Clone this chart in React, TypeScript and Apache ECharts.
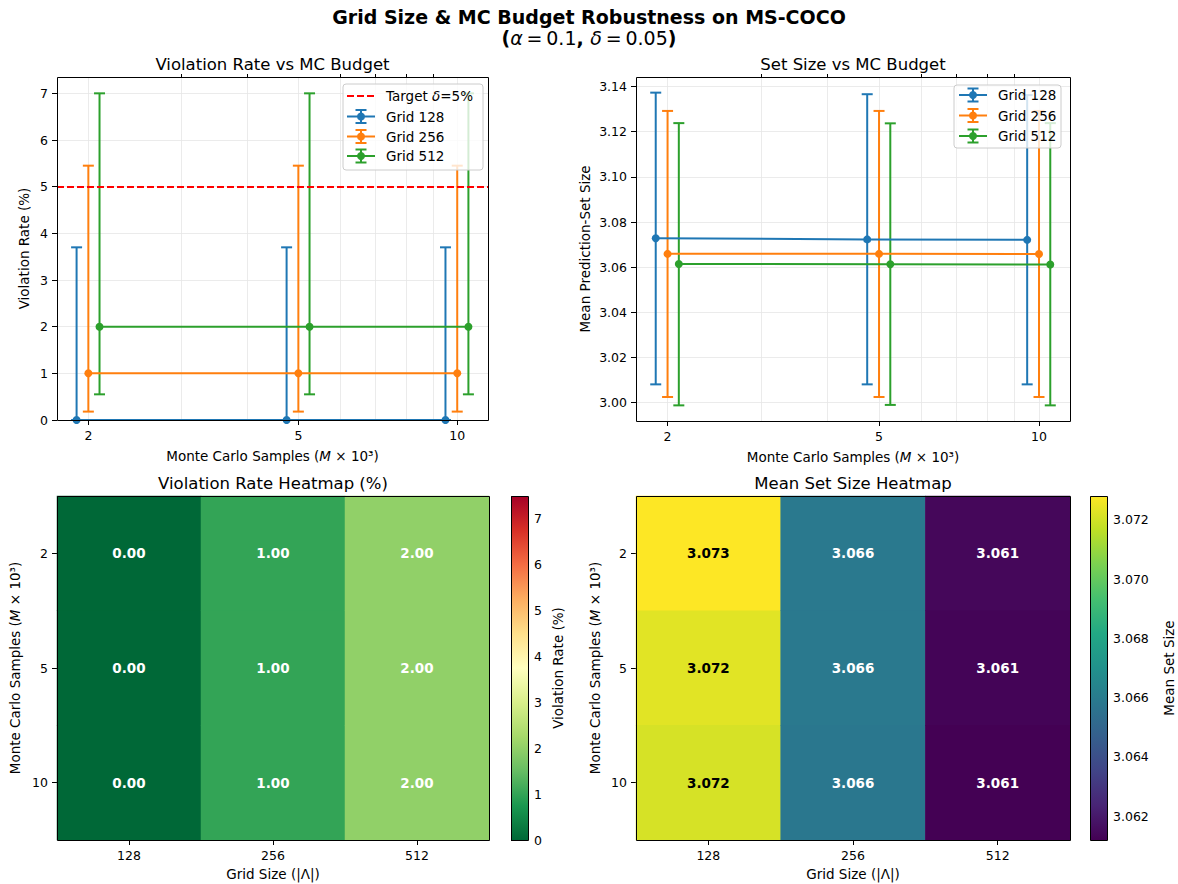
import React, { useEffect, useRef } from 'react';
import * as echarts from 'echarts';

// ---------------- data ----------------
const mcBudgets = [2, 5, 10];
const budgetLabels = ['2', '5', '10'];
const gridSizes = ['128', '256', '512'];
const seriesNames = ['Grid 128', 'Grid 256', 'Grid 512'];
const seriesColors = ['#1f77b4', '#ff7f0e', '#2ca02c'];
const xJitter = [0.95, 1.0, 1.05];

// violation rate (%) per grid size (rows) and MC budget (cols)
const violationRate = [
  [0, 0, 0],
  [1, 1, 1],
  [2, 2, 2],
];
const violationLow = [
  [0, 0, 0],
  [0.18, 0.18, 0.18],
  [0.55, 0.55, 0.55],
];
const violationHigh = [
  [3.7, 3.7, 3.7],
  [5.45, 5.45, 5.45],
  [7.0, 7.0, 7.0],
];
const targetDelta = 5;

// mean prediction-set size
const setSize = [
  [3.0728, 3.0723, 3.0721],
  [3.0659, 3.0659, 3.0658],
  [3.0614, 3.0613, 3.0612],
];
const setSizeLow = [
  [3.0081, 3.0081, 3.0081],
  [3.0025, 3.0025, 3.0025],
  [2.9988, 2.999, 2.9988],
];
const setSizeHigh = [
  [3.1373, 3.1366, 3.1362],
  [3.1292, 3.1292, 3.1292],
  [3.1238, 3.1237, 3.1238],
];

const violationTicks = [0, 1, 2, 3, 4, 5, 6, 7];
const setSizeTicks = [3.0, 3.02, 3.04, 3.06, 3.08, 3.1, 3.12, 3.14];
const minorLogTicks = [3, 4, 6, 7, 8, 9];
const violationCbTicks = [0, 1, 2, 3, 4, 5, 6, 7];
const setSizeCbTicks = [3.062, 3.064, 3.066, 3.068, 3.07, 3.072];
const violationColorMax = 7.5;

const rdylgnR = ['#006837', '#1a9850', '#66bd63', '#a6d96a', '#d9ef8b', '#ffffbf', '#fee08b', '#fdae61', '#f46d43', '#d73027', '#a50026'];
const viridis = ['#440154', '#482475', '#414487', '#355f8d', '#2a788e', '#21918c', '#22a884', '#44bf70', '#7ad151', '#bddf26', '#fde725'];

// ---------------- style / layout ----------------
const FONT = "'DejaVu Sans', 'Liberation Sans', sans-serif";
const TICK = 12.5;
const LABEL = 13.5;
const GRIDLINE = '#e6e6e6';

const L = {
  tl: { left: 57, top: 77, width: 431, height: 343 },
  tr: { left: 636, top: 77, width: 434, height: 344 },
  bl: { left: 57, top: 496, width: 432, height: 344 },
  br: { left: 636, top: 496, width: 434, height: 344 },
  cb1: { left: 511, top: 496, width: 17, height: 344 },
  cb2: { left: 1090, top: 496, width: 17, height: 344 },
};

const allX = mcBudgets.flatMap((m) => xJitter.map((j) => m * j));
const lxMin = Math.log10(Math.min(...allX));
const lxMax = Math.log10(Math.max(...allX));
const lxPad = (lxMax - lxMin) * 0.05;
const xMin = Math.pow(10, lxMin - lxPad);
const xMax = Math.pow(10, lxMax + lxPad);

const flatSet = setSize.flat();
const setMin = Math.min(...flatSet);
const setMax = Math.max(...flatSet);
const sLo = Math.min(...setSizeLow.flat());
const sHi = Math.max(...setSizeHigh.flat());
const sPad = (sHi - sLo) * 0.05;

const mcName = 'Monte Carlo Samples ({i|M} × 10³)';
const nameStyle = {
  fontSize: LABEL,
  fontFamily: FONT,
  color: '#000',
  rich: { i: { fontStyle: 'italic', fontSize: LABEL, fontFamily: FONT, color: '#000' } },
};
const tickLabel = { fontSize: TICK, fontFamily: FONT, color: '#000' };
const tickLine = { color: '#000', width: 1 };

function logX(gridIndex: number, major: boolean) {
  return {
    type: 'log',
    logBase: 10,
    gridIndex,
    min: xMin,
    max: xMax,
    axisLine: { show: false },
    axisTick: {
      show: true,
      customValues: major ? mcBudgets : minorLogTicks,
      length: major ? 5 : 3,
      lineStyle: tickLine,
    },
    axisLabel: major
      ? { show: true, customValues: mcBudgets, formatter: (v: number) => String(Math.round(v)), margin: 9, ...tickLabel }
      : { show: false },
    splitLine: { show: true, lineStyle: { color: GRIDLINE, width: 0.8 } },
    minorTick: { show: false },
    name: major ? mcName : '',
    nameLocation: 'middle',
    nameGap: 29,
    nameTextStyle: nameStyle,
  };
}

function errorBarSeries(xAxisIndex: number, yAxisIndex: number, gi: number, lows: number[], highs: number[]) {
  const color = seriesColors[gi];
  return {
    type: 'custom',
    name: seriesNames[gi],
    xAxisIndex,
    yAxisIndex,
    encode: { x: 0, y: [1, 2] },
    data: mcBudgets.map((m, i) => [m * xJitter[gi], lows[i], highs[i]]),
    renderItem: (_p: any, api: any) => {
      const x = api.value(0);
      const lo = api.coord([x, api.value(1)]);
      const hi = api.coord([x, api.value(2)]);
      const cap = 5.5;
      const st = { stroke: color, lineWidth: 2, fill: null };
      return {
        type: 'group',
        children: [
          { type: 'line', shape: { x1: lo[0], y1: lo[1], x2: hi[0], y2: hi[1] }, style: st },
          { type: 'line', shape: { x1: lo[0] - cap, y1: lo[1], x2: lo[0] + cap, y2: lo[1] }, style: st },
          { type: 'line', shape: { x1: hi[0] - cap, y1: hi[1], x2: hi[0] + cap, y2: hi[1] }, style: st },
        ],
      };
    },
    z: 3,
    silent: true,
  };
}

function lineSeries(xAxisIndex: number, yAxisIndex: number, gi: number, vals: number[], extra: any = {}) {
  return {
    type: 'line',
    name: seriesNames[gi],
    xAxisIndex,
    yAxisIndex,
    data: mcBudgets.map((m, i) => [m * xJitter[gi], vals[i]]),
    symbol: 'circle',
    symbolSize: 8,
    showSymbol: true,
    lineStyle: { color: seriesColors[gi], width: 2 },
    itemStyle: { color: seriesColors[gi] },
    z: 4,
    silent: true,
    ...extra,
  };
}

function frame(r: any) {
  return {
    type: 'rect',
    shape: { x: r.left + 0.5, y: r.top + 0.5, width: r.width, height: r.height },
    style: { fill: null, stroke: '#000', lineWidth: 1 },
    z: 100,
    silent: true,
  };
}

function ebIcon(cx: number, cy: number, x0: number, x1: number, color: string) {
  const st = { stroke: color, lineWidth: 2, fill: null };
  return [
    { type: 'line', shape: { x1: x0, y1: cy, x2: x1, y2: cy }, style: st, z: 102 },
    { type: 'line', shape: { x1: cx, y1: cy - 6.5, x2: cx, y2: cy + 6.5 }, style: st, z: 102 },
    { type: 'line', shape: { x1: cx - 5.5, y1: cy - 6.5, x2: cx + 5.5, y2: cy - 6.5 }, style: st, z: 102 },
    { type: 'line', shape: { x1: cx - 5.5, y1: cy + 6.5, x2: cx + 5.5, y2: cy + 6.5 }, style: st, z: 102 },
    { type: 'circle', shape: { cx, cy, r: 4 }, style: { fill: color }, z: 103 },
  ];
}

function legendText(x: number, y: number, text: string, rich?: any) {
  return {
    type: 'text',
    x,
    y,
    z: 103,
    style: {
      text,
      fontSize: LABEL,
      fontFamily: FONT,
      fill: '#000',
      verticalAlign: 'middle',
      align: 'left',
      rich,
    },
  };
}

function centerText(x: number, y: number, text: string, size: number, bold = false, rich?: any) {
  return {
    type: 'text',
    x,
    y,
    z: 100,
    style: {
      text,
      fontSize: size,
      fontFamily: FONT,
      fontWeight: bold ? 'bold' : 'normal',
      fill: '#000',
      align: 'center',
      verticalAlign: 'middle',
      rich,
    },
  };
}

function buildOption() {
  const series: any[] = [];
  // top-left: violation rate
  for (let gi = 0; gi < 3; gi++) series.push(errorBarSeries(0, 0, gi, violationLow[gi], violationHigh[gi]));
  for (let gi = 0; gi < 3; gi++)
    series.push(
      lineSeries(0, 0, gi, violationRate[gi],
        gi === 0
          ? {
              markLine: {
                silent: true,
                symbol: ['none', 'none'],
                label: { show: false },
                lineStyle: { color: '#ff0000', type: [7, 3], width: 2 },
                data: [{ yAxis: targetDelta }],
                z: 5,
              },
            }
          : {}
      )
    );
  // top-right: set size
  for (let gi = 0; gi < 3; gi++) series.push(errorBarSeries(2, 1, gi, setSizeLow[gi], setSizeHigh[gi]));
  for (let gi = 0; gi < 3; gi++) series.push(lineSeries(2, 1, gi, setSize[gi]));

  const heatViolIdx = series.length;
  series.push({
    type: 'heatmap',
    xAxisIndex: 4,
    yAxisIndex: 2,
    data: gridSizes.flatMap((_g, gi) => mcBudgets.map((_m, mi) => [gi, mi, violationRate[gi][mi]])),
    label: {
      show: true,
      formatter: (p: any) => Number(p.value[2]).toFixed(2),
      color: '#fff',
      fontWeight: 'bold',
      fontSize: LABEL,
      fontFamily: FONT,
    },
    itemStyle: { borderWidth: 0 },
    emphasis: { disabled: true },
    silent: true,
  });
  const heatSetIdx = series.length;
  series.push({
    type: 'heatmap',
    xAxisIndex: 5,
    yAxisIndex: 3,
    data: gridSizes.flatMap((_g, gi) =>
      mcBudgets.map((_m, mi) => {
        const v = setSize[gi][mi];
        const bright = (v - setMin) / (setMax - setMin) > 0.5;
        return { value: [gi, mi, v], label: { color: bright ? '#000' : '#fff' } };
      })
    ),
    label: {
      show: true,
      formatter: (p: any) => Number(p.value[2]).toFixed(3),
      fontWeight: 'bold',
      fontSize: LABEL,
      fontFamily: FONT,
    },
    itemStyle: { borderWidth: 0 },
    emphasis: { disabled: true },
    silent: true,
  });

  const catX = (gridIndex: number) => ({
    type: 'category',
    gridIndex,
    data: gridSizes,
    axisLine: { show: false },
    axisTick: { show: true, alignWithLabel: true, length: 5, lineStyle: tickLine },
    axisLabel: { margin: 9, ...tickLabel },
    splitLine: { show: false },
    name: 'Grid Size (|Λ|)',
    nameLocation: 'middle',
    nameGap: 27,
    nameTextStyle: nameStyle,
  });
  const catY = (gridIndex: number, gap: number) => ({
    type: 'category',
    gridIndex,
    data: budgetLabels,
    inverse: true,
    axisLine: { show: false },
    axisTick: { show: true, alignWithLabel: true, length: 5, lineStyle: tickLine },
    axisLabel: { margin: 9, ...tickLabel },
    splitLine: { show: false },
    name: mcName,
    nameLocation: 'middle',
    nameGap: gap,
    nameRotate: 90,
    nameTextStyle: nameStyle,
  });
  const cbY = (gridIndex: number, min: number, max: number, ticks: number[], digits: number, name: string, gap: number) => ({
    type: 'value',
    gridIndex,
    position: 'right',
    min,
    max,
    axisLine: { show: false },
    axisTick: { show: true, customValues: ticks, length: 5, lineStyle: tickLine },
    axisLabel: { show: true, customValues: ticks, formatter: (v: number) => v.toFixed(digits), margin: 6, ...tickLabel },
    splitLine: { show: false },
    name,
    nameLocation: 'middle',
    nameGap: gap,
    nameRotate: 90,
    nameTextStyle: nameStyle,
  });

  const gradient = (colors: string[]) => ({
    type: 'linear',
    x: 0,
    y: 1,
    x2: 0,
    y2: 0,
    colorStops: colors.map((c, i) => ({ offset: i / (colors.length - 1), color: c })),
  });

  const legendTL: any[] = [];
  {
    const box = { x: 343, y: 84, w: 140, h: 86 };
    legendTL.push({
      type: 'rect',
      shape: { x: box.x, y: box.y, width: box.w, height: box.h, r: 3 },
      style: { fill: 'rgba(255,255,255,0.8)', stroke: '#cccccc', lineWidth: 1 },
      z: 101,
    });
    const rows = [96, 116.5, 136.5, 156];
    const hx0 = 347, hx1 = 375, tx = 386;
    legendTL.push({
      type: 'line',
      shape: { x1: hx0, y1: rows[0], x2: hx1, y2: rows[0] },
      style: { stroke: '#ff0000', lineWidth: 2, lineDash: [7, 3] },
      z: 102,
    });
    legendTL.push(
      legendText(tx, rows[0], 'Target {i|δ}=5%', { i: { fontStyle: 'italic', fontSize: LABEL, fontFamily: FONT } })
    );
    for (let gi = 0; gi < 3; gi++) {
      legendTL.push(...ebIcon((hx0 + hx1) / 2, rows[gi + 1], hx0, hx1, seriesColors[gi]));
      legendTL.push(legendText(tx, rows[gi + 1], seriesNames[gi]));
    }
  }
  const legendTR: any[] = [];
  {
    const box = { x: 954, y: 85, w: 107, h: 63 };
    legendTR.push({
      type: 'rect',
      shape: { x: box.x, y: box.y, width: box.w, height: box.h, r: 3 },
      style: { fill: 'rgba(255,255,255,0.8)', stroke: '#cccccc', lineWidth: 1 },
      z: 101,
    });
    const rows = [95, 115.5, 136];
    const hx0 = 959, hx1 = 987, tx = 998;
    for (let gi = 0; gi < 3; gi++) {
      legendTR.push(...ebIcon((hx0 + hx1) / 2, rows[gi], hx0, hx1, seriesColors[gi]));
      legendTR.push(legendText(tx, rows[gi], seriesNames[gi]));
    }
  }

  const titleRich = {
    b: { fontWeight: 'bold', fontSize: 19, fontFamily: FONT, fill: '#000' },
    m: { fontStyle: 'italic', fontSize: 19, fontFamily: FONT, fill: '#000' },
    n: { fontSize: 19, fontFamily: FONT, fill: '#000' },
  };

  return {
    animation: false,
    backgroundColor: '#ffffff',
    textStyle: { fontFamily: FONT },
    grid: [
      { ...L.tl, containLabel: false },
      { ...L.tr, containLabel: false },
      { ...L.bl, containLabel: false },
      { ...L.br, containLabel: false },
      { ...L.cb1, containLabel: false },
      { ...L.cb2, containLabel: false },
    ],
    xAxis: [
      logX(0, true),
      logX(0, false),
      logX(1, true),
      logX(1, false),
      catX(2),
      catX(3),
      { type: 'value', gridIndex: 4, show: false, min: 0, max: 1 },
      { type: 'value', gridIndex: 5, show: false, min: 0, max: 1 },
    ],
    yAxis: [
      {
        type: 'value',
        gridIndex: 0,
        min: 0,
        max: Math.max(...violationHigh.flat()) * 1.05,
        axisLine: { show: false },
        axisTick: { show: true, customValues: violationTicks, length: 5, lineStyle: tickLine },
        axisLabel: { show: true, customValues: violationTicks, margin: 9, ...tickLabel },
        splitLine: { show: true, lineStyle: { color: GRIDLINE, width: 0.8 } },
        name: 'Violation Rate (%)',
        nameLocation: 'middle',
        nameGap: 26,
        nameRotate: 90,
        nameTextStyle: nameStyle,
      },
      {
        type: 'value',
        gridIndex: 1,
        min: sLo - sPad,
        max: sHi + sPad,
        axisLine: { show: false },
        axisTick: { show: true, customValues: setSizeTicks, length: 5, lineStyle: tickLine },
        axisLabel: { show: true, customValues: setSizeTicks, formatter: (v: number) => v.toFixed(2), margin: 9, ...tickLabel },
        splitLine: { show: true, lineStyle: { color: GRIDLINE, width: 0.8 } },
        name: 'Mean Prediction-Set Size',
        nameLocation: 'middle',
        nameGap: 44,
        nameRotate: 90,
        nameTextStyle: nameStyle,
      },
      catY(2, 35),
      catY(3, 34),
      cbY(4, 0, violationColorMax, violationCbTicks, 0, 'Violation Rate (%)', 23),
      cbY(5, setMin, setMax, setSizeCbTicks, 3, 'Mean Set Size', 55),
    ],
    visualMap: [
      { type: 'continuous', show: false, seriesIndex: heatViolIdx, dimension: 2, min: 0, max: violationColorMax, inRange: { color: rdylgnR } },
      { type: 'continuous', show: false, seriesIndex: heatSetIdx, dimension: 2, min: setMin, max: setMax, inRange: { color: viridis } },
    ],
    series,
    graphic: [
      centerText(589, 17, 'Grid Size & MC Budget Robustness on MS-COCO', 19, true),
      centerText(589, 38, '{b|(}{m|α}{n|\u2009=\u20090.1}{b|, }{m|δ}{n|\u2009=\u20090.05}{b|)}', 19, true, titleRich),
      centerText(L.tl.left + L.tl.width / 2, 64, 'Violation Rate vs MC Budget', 16.5),
      centerText(L.tr.left + L.tr.width / 2, 64, 'Set Size vs MC Budget', 16.5),
      centerText(L.bl.left + L.bl.width / 2, 483, 'Violation Rate Heatmap (%)', 16.5),
      centerText(L.br.left + L.br.width / 2, 483, 'Mean Set Size Heatmap', 16.5),
      {
        type: 'rect',
        shape: { x: L.cb1.left, y: L.cb1.top, width: L.cb1.width, height: L.cb1.height },
        style: { fill: gradient(rdylgnR) },
        z: 50,
        silent: true,
      },
      {
        type: 'rect',
        shape: { x: L.cb2.left, y: L.cb2.top, width: L.cb2.width, height: L.cb2.height },
        style: { fill: gradient(viridis) },
        z: 50,
        silent: true,
      },
      frame(L.tl),
      frame(L.tr),
      frame(L.bl),
      frame(L.br),
      frame(L.cb1),
      frame(L.cb2),
      ...legendTL,
      ...legendTR,
    ],
  };
}

export default function App() {
  const ref = useRef<HTMLDivElement>(null);
  useEffect(() => {
    if (!ref.current) return;
    const chart = echarts.init(ref.current, null, { renderer: 'svg' });
    chart.setOption(buildOption() as any);
    return () => chart.dispose();
  }, []);
  return (
    <div
      ref={ref}
      style={{ position: 'fixed', left: 0, top: 0, width: 1178, height: 884, background: '#fff' }}
    />
  );
}
